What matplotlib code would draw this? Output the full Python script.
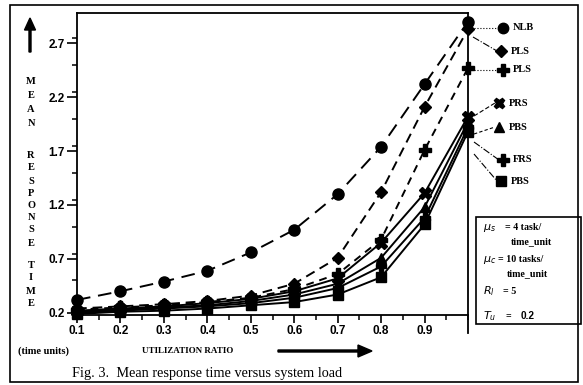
import numpy as np
import matplotlib
matplotlib.use("Agg")
import matplotlib.pyplot as plt
from matplotlib.patches import Rectangle, FancyArrow
from matplotlib.ticker import MultipleLocator

# utilization ratio
util = [0.1, 0.2, 0.3, 0.4, 0.5, 0.6, 0.7, 0.8, 0.9, 1.0]

# mean response time per policy
nlb = [0.32, 0.40, 0.49, 0.59, 0.76, 0.97, 1.30, 1.74, 2.32, 2.90]
pls_d = [0.24, 0.26, 0.28, 0.31, 0.36, 0.47, 0.71, 1.32, 2.11, 2.83]
pls_p = [0.23, 0.25, 0.27, 0.30, 0.34, 0.42, 0.56, 0.88, 1.71, 2.47]
prs_x = [0.22, 0.24, 0.26, 0.29, 0.33, 0.40, 0.52, 0.85, 1.31, 2.02]
pbs_t = [0.21, 0.23, 0.25, 0.27, 0.31, 0.37, 0.47, 0.71, 1.18, 1.97]
frs_p = [0.20, 0.22, 0.24, 0.26, 0.29, 0.34, 0.43, 0.63, 1.08, 1.92]
pbs_s = [0.19, 0.21, 0.22, 0.24, 0.27, 0.30, 0.37, 0.53, 1.02, 1.88]

labels = ["NLB", "PLS", "PLS", "PRS", "PBS", "FRS", "PBS"]
yticks = [0.2, 0.7, 1.2, 1.7, 2.2, 2.7]
xticks = [0.1, 0.2, 0.3, 0.4, 0.5, 0.6, 0.7, 0.8, 0.9]

W, H = 583, 385
fig = plt.figure(figsize=(W / 100, H / 100), dpi=100)
fig.patch.set_facecolor("white")

serif = "Liberation Serif"
sans = "Liberation Sans"

ax = fig.add_axes([77 / W, 1 - 315 / H, (468 - 77) / W, (315 - 13) / H])

series = [
    (nlb, "o", (0, (7, 4)), 8),
    (pls_d, "D", (0, (5, 3)), 6.5),
    (pls_p, "P", (0, (4, 3)), 8),
    (prs_x, "X", "-", 8),
    (pbs_t, "^", "-", 7),
    (frs_p, "P", "-", 7.5),
    (pbs_s, "s", "-", 6.5),
]
for vals, mk, ls, ms in series:
    ax.plot(util, vals, color="black", linestyle=ls, linewidth=1.4,
            marker=mk, markersize=ms, markerfacecolor="black",
            markeredgecolor="black", clip_on=False)

ax.set_xlim(0.1, 1.0)
ax.set_ylim(0.18, 2.98)
ax.set_xticks(xticks)
ax.set_xticklabels([f"{v:.1f}" for v in xticks])
ax.set_yticks(yticks)
ax.set_yticklabels([f"{v:.1f}" for v in yticks])
ax.xaxis.set_minor_locator(MultipleLocator(0.05))
ax.yaxis.set_minor_locator(MultipleLocator(0.25))
ax.tick_params(which="major", direction="out", length=7, width=1.2,
               labelsize=8.5, pad=2)
ax.tick_params(which="minor", direction="out", length=3.5, width=1.1)
ax.tick_params(axis="x", which="major", length=6, pad=1)
for lab in ax.get_xticklabels() + ax.get_yticklabels():
    lab.set_fontfamily(sans)
    lab.set_fontweight("bold")
for sp in ax.spines.values():
    sp.set_linewidth(1.3)

# overlay in pixel coordinates for annotations
ov = fig.add_axes([0, 0, 1, 1])
ov.set_xlim(0, W)
ov.set_ylim(H, 0)
ov.set_axis_off()

# outer frame
ov.add_patch(Rectangle((10, 5), 568, 377, fill=False, lw=1.2, ec="black"))
# right spine extension
ov.plot([468, 468], [315, 333], color="black", lw=1.3)

# y label letters
word_rows = [("M", 82), ("E", 96), ("A", 110), ("N", 123),
             ("R", 155), ("E", 168), ("S", 181), ("P", 193), ("O", 206),
             ("N", 218), ("S", 230), ("E", 243),
             ("T", 265), ("I", 278), ("M", 291), ("E", 304)]
for ch, yy in word_rows:
    ov.text(31, yy, ch, ha="center", va="center", fontsize=7.5,
            fontfamily=serif, fontweight="bold")
ov.add_patch(FancyArrow(30, 52, 0, -34, width=2, head_width=11,
                        head_length=12, length_includes_head=True,
                        color="black"))

ov.text(43, 351, "(time units)", ha="center", va="center", fontsize=7.5,
        fontfamily=serif, fontweight="bold")
ov.text(188, 351, "UTILIZATION RATIO", ha="center", va="center",
        fontsize=6.5, fontfamily=serif, fontweight="bold")
ov.add_patch(FancyArrow(278, 351, 94, 0, width=2, head_width=12,
                        head_length=14, length_includes_head=True,
                        color="black"))
ov.text(72, 373, "Fig. 3.  Mean response time versus system load",
        ha="left", va="center", fontsize=10.3, fontfamily=serif)

# legend on the right
leg = [
    ((474, 28), (503, 28), "o", ":", 7.5),
    ((473, 37), (501, 51), "D", "-.", 6),
    ((474, 70), (503, 70), "P", ":", 8),
    ((474, 116), (499, 103), "X", (0, (4, 2)), 7.5),
    ((474, 134), (499, 127), "^", (0, (3, 2)), 7),
    ((474, 142), (503, 160), "P", "-.", 8),
    ((474, 154), (501, 181), "s", "-.", 6.5),
]
for (p0, p1, mk, ls, ms), lab in zip(leg, labels):
    ov.plot([p0[0], p1[0] - 4], [p0[1], p1[1]], color="black", lw=0.8,
            linestyle=ls)
    ov.plot([p1[0]], [p1[1]], marker=mk, color="black", markersize=ms,
            linestyle="none")
    ov.text(p1[0] + 10, p1[1], lab, ha="left", va="center", fontsize=7.5,
            fontfamily=serif, fontweight="bold")

# parameter box
ov.add_patch(Rectangle((476, 217), 105, 107, fill=False, lw=1.2, ec="black"))
pfs = 7.2
ov.text(483, 228, r"$\mu_s$", fontsize=8, va="center", fontweight="bold")
ov.text(505, 228, "= 4 task/", fontsize=pfs, va="center",
        fontfamily=serif, fontweight="bold")
ov.text(511, 242, "time_unit", fontsize=pfs, va="center",
        fontfamily=serif, fontweight="bold")
ov.text(483, 260, r"$\mu_c$", fontsize=8, va="center", fontweight="bold")
ov.text(498, 260, "= 10 tasks/", fontsize=pfs, va="center",
        fontfamily=serif, fontweight="bold")
ov.text(507, 274, "time_unit", fontsize=pfs, va="center",
        fontfamily=serif, fontweight="bold")
ov.text(483, 291, r"$R_l$", fontsize=8, va="center", fontweight="bold")
ov.text(503, 291, "= 5", fontsize=pfs, va="center",
        fontfamily=serif, fontweight="bold")
ov.text(483, 316, r"$T_u$", fontsize=8, va="center", fontweight="bold")
ov.text(505, 316, "=", fontsize=pfs, va="center",
        fontfamily=serif, fontweight="bold")
ov.text(521, 316, "0.2", fontsize=pfs, va="center",
        fontfamily=sans, fontweight="bold")

fig.savefig("out.png", dpi=100)
